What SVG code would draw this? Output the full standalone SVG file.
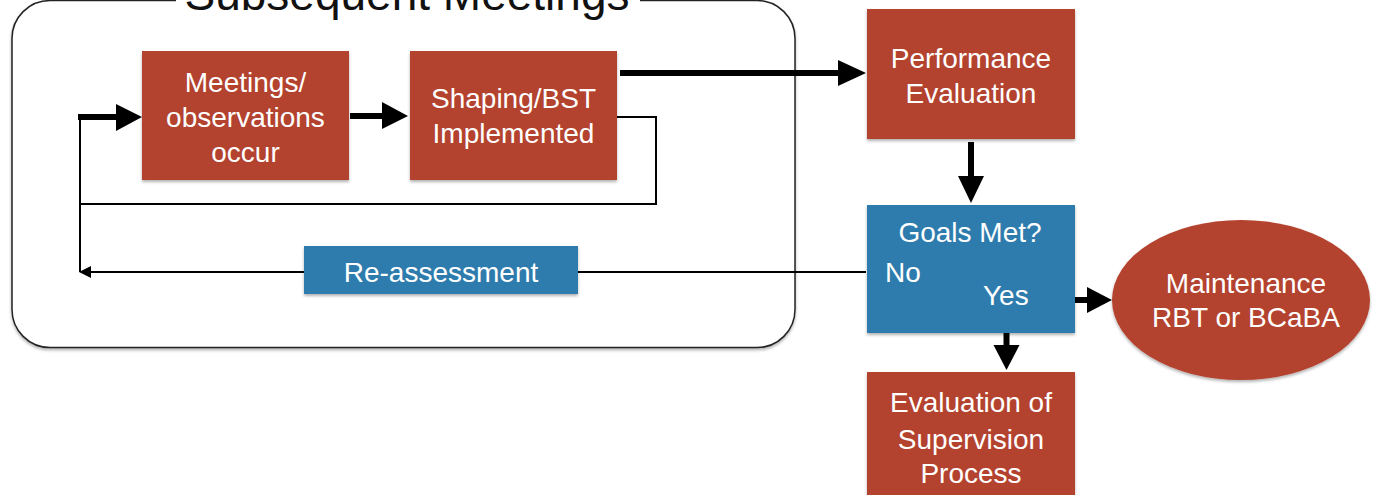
<svg xmlns="http://www.w3.org/2000/svg" width="1376" height="495" viewBox="0 0 1376 495">
<style>
text{font-family:"Liberation Sans",Arial,sans-serif;fill:#fff;font-size:28px;text-anchor:middle}
.red{fill:#b3432f}
.blue{fill:#2f7cad}
.thin{stroke:#000;stroke-width:2;fill:none}
.thick{stroke:#000;stroke-width:6;fill:none}
.head{fill:#000}
</style>
<defs>
<filter id="sh" x="-10%" y="-10%" width="130%" height="130%">
<feDropShadow dx="0" dy="2" stdDeviation="1.5" flood-color="#000" flood-opacity="0.3"/>
</filter>
</defs>
<g id="container">
<rect x="12" y="0.5" width="783" height="347" rx="38" ry="38" fill="#fff" stroke="#222" stroke-width="1.5" filter="url(#sh)"/>
<rect x="176" y="-2" width="464" height="14" fill="#fff"/>
<text x="407" y="10" style="fill:#111;font-size:46px">Subsequent Meetings</text>
</g>
<g id="connectors">
<polyline class="thin" points="617,117 656,117 656,204 80,204"/>
<line class="thin" x1="80" y1="117" x2="80" y2="272"/>
<line class="thin" x1="866" y1="272" x2="578" y2="272"/>
<line class="thin" x1="304" y1="272" x2="88" y2="272"/>
<polygon class="head" points="79,272 91,266 91,278"/>
<line class="thick" x1="78" y1="117" x2="118" y2="117"/>
<polygon class="head" points="116,104 142,117 116,131"/>
<line class="thick" x1="350" y1="116" x2="384" y2="116"/>
<polygon class="head" points="382,102 408,116 382,129"/>
<line class="thick" x1="620" y1="73" x2="840" y2="73"/>
<polygon class="head" points="838,60 866,73 838,86"/>
<line class="thick" x1="971" y1="142" x2="971" y2="178"/>
<polygon class="head" points="958,176 984,176 971,203"/>
<line class="thick" x1="1049" y1="300" x2="1089" y2="300"/>
<polygon class="head" points="1087,287 1112,300 1087,313"/>
<line class="thick" x1="1006.5" y1="310" x2="1006.5" y2="347"/>
<polygon class="head" points="993.5,345 1019.5,345 1006.5,370"/>
</g>
<g id="meetings">
<rect class="red" x="142" y="51" width="207" height="129" filter="url(#sh)"/>
<text x="245.5" y="92">Meetings/</text>
<text x="245.5" y="127">observations</text>
<text x="245.5" y="162">occur</text>
</g>
<g id="shaping">
<rect class="red" x="410" y="51" width="207" height="129" filter="url(#sh)"/>
<text x="513.5" y="108">Shaping/BST</text>
<text x="513.5" y="143">Implemented</text>
</g>
<g id="reassessment">
<rect class="blue" x="304" y="246" width="274" height="48" filter="url(#sh)"/>
<text x="441" y="282">Re-assessment</text>
</g>
<g id="performance">
<rect class="red" x="867" y="9" width="208" height="130" filter="url(#sh)"/>
<text x="971" y="68">Performance</text>
<text x="971" y="103">Evaluation</text>
</g>
<g id="goals">
<rect class="blue" x="867" y="205" width="208" height="128" filter="url(#sh)"/>
<text x="970" y="242">Goals Met?</text>
<text x="885" y="282" style="text-anchor:start">No</text>
<text x="983" y="305" style="text-anchor:start">Yes</text>
</g>
<g id="maintenance">
<ellipse class="red" cx="1241" cy="300" rx="129" ry="80" filter="url(#sh)"/>
<text x="1246" y="293">Maintenance</text>
<text x="1246" y="327">RBT or BCaBA</text>
</g>
<g id="evaluation">
<rect class="red" x="867" y="372" width="208" height="130" filter="url(#sh)"/>
<text x="971" y="412">Evaluation of</text>
<text x="971" y="449">Supervision</text>
<text x="971" y="483">Process</text>
</g>
</svg>
